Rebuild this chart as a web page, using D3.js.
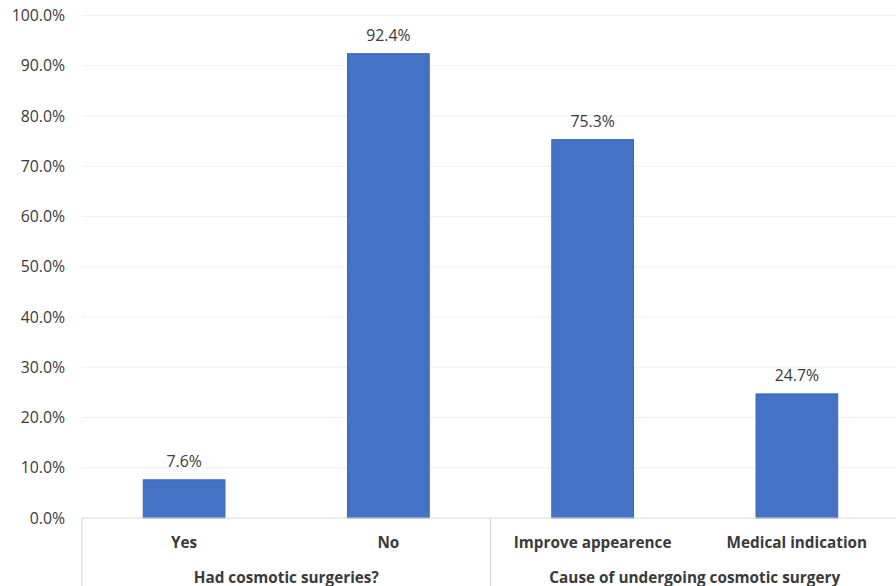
<!DOCTYPE html>
<html><head><meta charset="utf-8">
<script src="https://cdn.jsdelivr.net/npm/d3@7"></script>
<style>html,body{margin:0;padding:0;background:#fff;overflow:hidden}</style>
</head><body>
<svg id="c" width="896" height="586"></svg>
<script>
const categories = ["Yes", "No", "Improve appearence", "Medical indication"];
const values = [7.6, 92.4, 75.3, 24.7];
const groups = [
  {label: "Had cosmotic surgeries?", members: ["Yes", "No"]},
  {label: "Cause of undergoing cosmotic surgery", members: ["Improve appearence", "Medical indication"]}
];
const yTicks = [0, 10, 20, 30, 40, 50, 60, 70, 80, 90, 100];

(function () {
const svg = d3.select("#c");
const font = "'Open Sans', 'Noto Sans', sans-serif";
const pLeft = 82, pRight = 899, pTop = 15.5, pBottom = 518;
const fsNum = 15.8, fsBold = 15.3, txt = "#3a3a3a";

const x = d3.scaleBand().domain(categories).range([pLeft, pRight]).paddingInner(0.6).paddingOuter(0.3);
const y = d3.scaleLinear().domain([0, 100]).range([pBottom, pTop]);

// gridlines
svg.append("g").selectAll("line").data(yTicks.filter(d => d > 0)).join("line")
  .attr("x1", pLeft).attr("x2", 896)
  .attr("y1", d => y(d)).attr("y2", d => y(d))
  .attr("stroke", "#efefef").attr("stroke-width", 1);

// y tick labels
svg.append("g").selectAll("text").data(yTicks).join("text")
  .attr("x", 65).attr("y", d => y(d)).attr("dy", "0.35em")
  .attr("text-anchor", "end")
  .attr("font-family", font).attr("font-size", fsNum).attr("fill", txt)
  .text(d => d.toFixed(1) + "%");

// bars
svg.append("g").selectAll("rect").data(categories).join("rect")
  .attr("x", d => x(d)).attr("width", x.bandwidth())
  .attr("y", (d, i) => y(values[i])).attr("height", (d, i) => pBottom - y(values[i]))
  .attr("fill", "#4472C4").attr("stroke", "#3a67bd").attr("stroke-width", 1);

// data labels
svg.append("g").selectAll("text").data(categories).join("text")
  .attr("x", d => x(d) + x.bandwidth() / 2)
  .attr("y", (d, i) => y(values[i]) - 12.5)
  .attr("text-anchor", "middle")
  .attr("font-family", font).attr("font-size", fsNum).attr("fill", txt)
  .text((d, i) => values[i].toFixed(1) + "%");

// axis line
svg.append("line").attr("x1", pLeft).attr("x2", 896).attr("y1", pBottom).attr("y2", pBottom)
  .attr("stroke", "#d9d9d9").attr("stroke-width", 1.2);

// category labels
svg.append("g").selectAll("text").data(categories).join("text")
  .attr("x", d => x(d) + x.bandwidth() / 2).attr("y", 548)
  .attr("text-anchor", "middle")
  .attr("font-family", font).attr("font-size", fsBold).attr("font-weight", "bold").attr("fill", txt)
  .text(d => d);

// group dividers and labels
const step = x.step();
const groupBounds = groups.map(g => {
  const xs = g.members.map(m => x(m) + x.bandwidth() / 2);
  return {label: g.label, x0: d3.min(xs) - step / 2, x1: d3.max(xs) + step / 2};
});
const dividers = [groupBounds[0].x0, ...groupBounds.map(g => g.x1)];
svg.append("g").selectAll("line").data(dividers).join("line")
  .attr("x1", d => d).attr("x2", d => d).attr("y1", pBottom).attr("y2", 586)
  .attr("stroke", "#d9d9d9").attr("stroke-width", 1.2);
svg.append("g").selectAll("text").data(groupBounds).join("text")
  .attr("x", d => (d.x0 + d.x1) / 2).attr("y", 583)
  .attr("text-anchor", "middle")
  .attr("font-family", font).attr("font-size", fsBold).attr("font-weight", "bold").attr("fill", txt)
  .text(d => d.label);
})();
</script>
</body></html>
